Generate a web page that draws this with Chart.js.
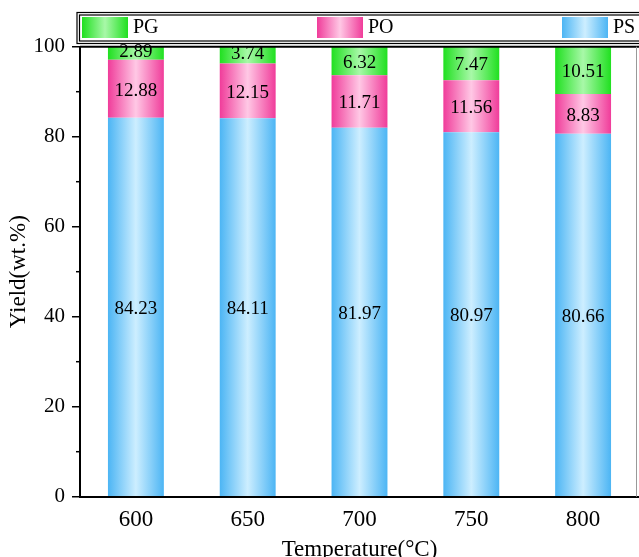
<!DOCTYPE html>
<html>
<head>
<meta charset="utf-8">
<script src="https://cdn.jsdelivr.net/npm/chart.js@4/dist/chart.umd.min.js"></script>
<style>
  html, body { margin: 0; padding: 0; background: #fff; overflow: hidden; }
  #wrap { width: 639px; height: 557px; position: relative; }
</style>
</head>
<body>
<div id="wrap"><canvas id="yieldChart"></canvas></div>
<script>
const temperatures = ['600', '650', '700', '750', '800'];
const psYield = [84.23, 84.11, 81.97, 80.97, 80.66];
const poYield = [12.88, 12.15, 11.71, 11.56, 8.83];
const pgYield = [2.89, 3.74, 6.32, 7.47, 10.51];
const minorTicks = [10, 30, 50, 70, 90];

const serif = "'Liberation Serif', 'Times New Roman', serif";

// edge colour, centre colour
const palette = {
  PS: ['#4cb5f4', '#cdeeff'],
  PO: ['#f03c9a', '#ffc8e5'],
  PG: ['#20e020', '#a8f8a8'],
};

function hGradient(ctx, left, right, colors) {
  const g = ctx.createLinearGradient(left, 0, right, 0);
  g.addColorStop(0, colors[0]);
  g.addColorStop(0.5, colors[1]);
  g.addColorStop(1, colors[0]);
  return g;
}

function barFill(name) {
  return (c) => {
    const chart = c.chart;
    const x = chart.scales.x;
    if (!chart.chartArea || !x || c.type !== 'data') return palette[name][0];
    const center = x.getPixelForValue(c.dataIndex);
    const half = x.width / temperatures.length * 0.25;
    return hGradient(chart.ctx, center - half, center + half, palette[name]);
  };
}

// numbers in the middle of each segment
const valueLabels = {
  id: 'valueLabels',
  afterDatasetsDraw(chart) {
    const { ctx } = chart;
    ctx.save();
    ctx.font = '19px ' + serif;
    ctx.fillStyle = '#000';
    ctx.textAlign = 'center';
    ctx.textBaseline = 'middle';
    chart.data.datasets.forEach((ds, di) => {
      chart.getDatasetMeta(di).data.forEach((bar, i) => {
        const h = Math.abs(bar.base - bar.y);
        const shift = h < 20 ? -1 : 2;
        ctx.fillText(ds.data[i].toFixed(2), bar.x, (bar.y + bar.base) / 2 + shift);
      });
    });
    ctx.restore();
  }
};

// top frame line, right edge, minor ticks, boxed legend
const frame = {
  id: 'frame',
  afterDraw(chart) {
    const { ctx, chartArea: a } = chart;
    const y = chart.scales.y;
    ctx.save();
    ctx.strokeStyle = '#000';
    ctx.lineWidth = 2;
    ctx.beginPath();
    ctx.moveTo(a.left, a.top);
    ctx.lineTo(a.right + 2, a.top);
    ctx.stroke();

    ctx.strokeStyle = '#999';
    ctx.lineWidth = 1;
    ctx.beginPath();
    ctx.moveTo(636.5, a.top);
    ctx.lineTo(636.5, a.bottom);
    ctx.stroke();

    ctx.strokeStyle = '#000';
    ctx.lineWidth = 1.5;
    minorTicks.forEach(v => {
      const p = y.getPixelForValue(v);
      ctx.beginPath();
      ctx.moveTo(a.left - 4, p);
      ctx.lineTo(a.left, p);
      ctx.stroke();
    });

    // legend box (double line)
    ctx.lineWidth = 1.2;
    ctx.strokeRect(77, 12.5, 600, 31);
    ctx.strokeRect(79.5, 15, 600, 26);

    const order = [2, 1, 0];
    const xs = [82, 317, 562];
    ctx.font = '20px ' + serif;
    ctx.textBaseline = 'middle';
    ctx.textAlign = 'left';
    order.forEach((di, k) => {
      const ds = chart.data.datasets[di];
      const x0 = xs[k];
      ctx.fillStyle = hGradient(ctx, x0, x0 + 46, palette[ds.label]);
      ctx.fillRect(x0, 17, 46, 21);
      ctx.fillStyle = '#000';
      ctx.fillText(ds.label, x0 + 51, 28);
    });
    ctx.restore();
  }
};

new Chart(document.getElementById('yieldChart'), {
  type: 'bar',
  data: {
    labels: temperatures,
    datasets: [
      { label: 'PS', data: psYield, backgroundColor: barFill('PS') },
      { label: 'PO', data: poYield, backgroundColor: barFill('PO') },
      { label: 'PG', data: pgYield, backgroundColor: barFill('PG') },
    ]
  },
  options: {
    responsive: true,
    maintainAspectRatio: false,
    animation: false,
    layout: { padding: { top: 46.7, left: 0, right: 0, bottom: 0 } },
    datasets: { bar: { barPercentage: 0.5, categoryPercentage: 1, borderWidth: 0 } },
    plugins: {
      legend: { display: false },
      tooltip: { enabled: false }
    },
    scales: {
      x: {
        stacked: true,
        afterFit(scale) { scale.height = 60.3; },
        grid: { display: true, drawOnChartArea: false, drawTicks: false },
        border: { display: true, color: '#000', width: 2 },
        ticks: { color: '#000', padding: 9, font: { family: serif, size: 23 } },
        title: {
          display: true,
          text: 'Temperature(°C)',
          color: '#000',
          padding: 0,
          font: { family: serif, size: 23, lineHeight: 0.6 }
        }
      },
      y: {
        stacked: true,
        min: 0,
        max: 100,
        afterFit(scale) { scale.width = 80; },
        grid: { drawOnChartArea: false, drawTicks: true, tickLength: 8, color: '#000', lineWidth: 1.5 },
        border: { display: true, color: '#000', width: 2 },
        ticks: { stepSize: 20, color: '#000', padding: 7, font: { family: serif, size: 21 } },
        title: {
          display: true,
          text: 'Yield(wt.%)',
          color: '#000',
          padding: { top: 5 },
          font: { family: serif, size: 23 }
        }
      }
    }
  },
  plugins: [valueLabels, frame]
});
</script>
</body>
</html>
